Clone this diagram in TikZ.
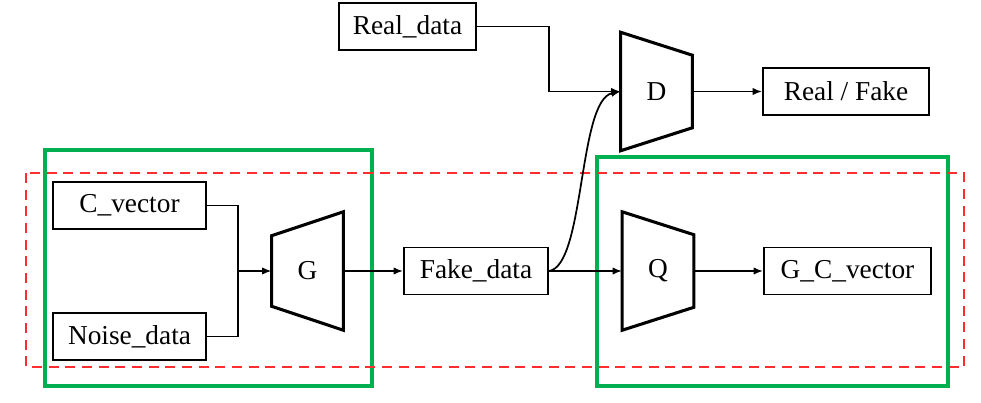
\documentclass[tikz,border=0pt]{standalone}
\usepackage{fontspec}
\setmainfont{Liberation Serif}
\usetikzlibrary{arrows.meta,calc}
\definecolor{frame}{RGB}{0,176,80}
\definecolor{branchred}{RGB}{255,45,45}

\begin{document}
\begin{tikzpicture}[x=0.75pt, y=-0.75pt, font=\fontsize{20.5}{24}\selectfont,
  box/.style={draw, line width=1.4pt, minimum height=35.25pt, inner sep=2pt},
  net/.style={minimum width=53.5pt, minimum height=88.5pt, inner sep=0pt},
  netline/.style={line width=2.3pt, line join=miter},
  link/.style={line width=1.3pt},
  arr/.style={link, -{Latex[length=7pt, width=5.5pt]}},
  group/.style={draw=frame, line width=2.4pt},
  branch/.style={draw=branchred, line width=1.5pt, dash pattern=on 7.5pt off 5pt},
]
\useasboundingbox (0,0) rectangle (981,403);

% the two sub-networks and the shared branch
\draw[group] (45,150) rectangle (372,386);
\draw[group] (597,157) rectangle (948,386);
\draw[branch] (26,173) rectangle (964,367);

\node[box, minimum width=114.75pt] (cvec)  at (129.5,205.5) {C\_vector};
\node[box, minimum width=114.75pt] (noise) at (129.5,336.5) {Noise\_data};
\node[net] (G) at (307.5,271) {G};
\node[box, minimum width=108pt]    (fake)  at (476,271) {Fake\_data};
\node[net] (Q) at (658,271) {Q};
\node[box, minimum width=125.25pt] (gcv)   at (847.5,271) {G\_C\_vector};
\node[box, minimum width=102.75pt] (real)  at (407.5,26.5) {Real\_data};
\node[net] (D) at (656.5,91.5) {D};
\node[box, minimum width=124.5pt]  (rf)    at (846,91.5) {Real / Fake};

% trapezoid outlines
\draw[netline] ($(G.north west)+(0,24)$) -- (G.north east) -- (G.south east)
  -- ($(G.south west)+(0,-24)$) -- cycle;
\draw[netline] (Q.north west) -- ($(Q.north east)+(0,23)$)
  -- ($(Q.south east)+(0,-23)$) -- (Q.south west) -- cycle;
\draw[netline] (D.north west) -- ($(D.north east)+(0,23)$)
  -- ($(D.south east)+(0,-23)$) -- (D.south west) -- cycle;

\coordinate (join) at (238,271);
\draw[link] (cvec.east) -| (join);
\draw[link] (noise.east) -| (join);
\draw[arr] (join) -- (G.west);
\draw[arr] (G.east) -- (fake.west);
\draw[arr] (fake.east) -- (Q.west);
\draw[arr] (Q.east) -- (gcv.west);

\draw[arr] (real.east) -- ++(72,0) |- (D.west);
\draw[arr] (fake.east) .. controls (585,266) and (578,100) .. (D.west);
\draw[arr] (D.east) -- (rf.west);
\end{tikzpicture}
\end{document}
